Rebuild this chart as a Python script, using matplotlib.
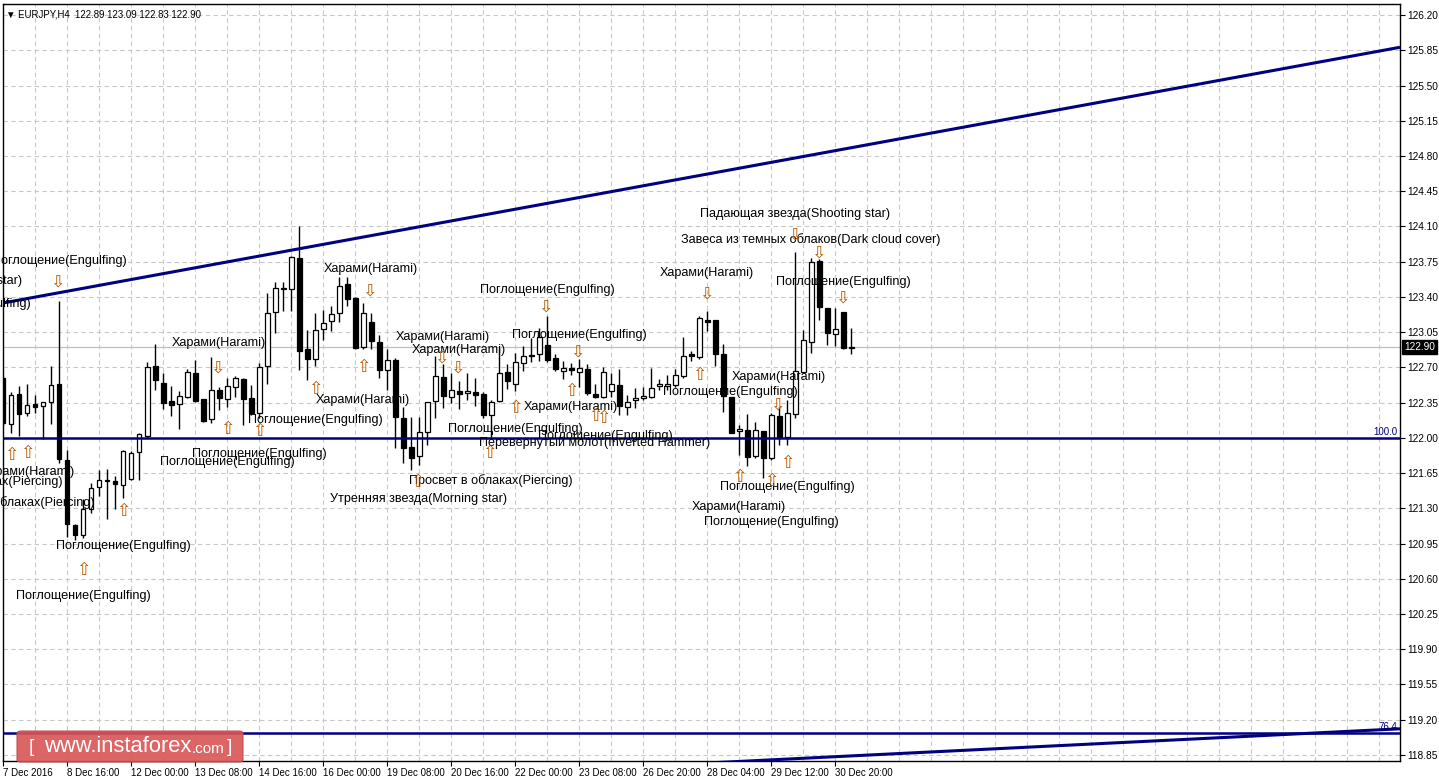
import matplotlib
matplotlib.use("Agg")
import matplotlib.pyplot as plt
from matplotlib.patches import FancyBboxPatch
import numpy as np

plt.rcParams['font.family'] = ['Liberation Sans', 'DejaVu Sans']

# EURJPY H4 candles (bar index 0 = first visible bar)
opens = [122.59, 122.14, 122.44, 122.25, 122.34, 122.32, 122.36, 122.54, 121.78, 121.13,
         121.04, 121.29, 121.51, 121.57, 121.57, 121.53, 121.59, 121.86, 122.02, 122.71,
         122.55, 122.37, 122.34, 122.41, 122.64, 122.39, 122.19, 122.48, 122.39, 122.51,
         122.58, 122.40, 122.25, 122.71, 123.25, 123.48, 123.48, 123.79, 122.88, 122.78,
         123.08, 123.16, 123.24, 123.53, 123.39, 122.90, 123.15, 122.95, 122.67, 122.77,
         122.20, 121.91, 121.82, 122.06, 122.37, 122.60, 122.41, 122.47, 122.45, 122.46,
         122.44, 122.23, 122.37, 122.65, 122.54, 122.74, 122.82, 122.83, 122.92, 122.79,
         122.66, 122.69, 122.65, 122.68, 122.44, 122.41, 122.47, 122.53, 122.31, 122.38,
         122.40, 122.41, 122.52, 122.52, 122.53, 122.61, 122.83, 122.80, 123.17, 123.17,
         122.83, 122.41, 122.07, 122.08, 121.82, 122.07, 121.80, 122.22, 122.01, 122.24,
         122.65, 122.95, 123.76, 123.29, 123.03, 123.25, 122.89]
highs = [122.61, 122.46, 122.52, 122.54, 122.43, 122.36, 122.71, 123.36, 121.88, 121.14,
         121.39, 121.55, 121.68, 121.69, 121.62, 121.88, 121.87, 122.05, 122.75, 122.93,
         122.64, 122.52, 122.47, 122.68, 122.77, 122.39, 122.80, 122.51, 122.59, 122.61,
         122.59, 122.53, 122.74, 123.44, 123.55, 123.55, 123.81, 124.10, 123.07, 123.24,
         123.27, 123.31, 123.60, 123.60, 123.40, 123.34, 123.24, 123.02, 122.88, 122.79,
         122.31, 122.21, 122.21, 122.36, 122.81, 122.73, 122.64, 122.56, 122.64, 122.59,
         122.46, 122.38, 122.89, 122.73, 122.84, 122.91, 122.99, 123.09, 123.21, 122.83,
         122.76, 122.74, 122.78, 122.73, 122.54, 122.70, 122.64, 122.68, 122.43, 122.50,
         122.51, 122.69, 122.58, 122.62, 122.68, 123.00, 122.86, 123.21, 123.26, 123.17,
         122.93, 122.41, 122.13, 122.24, 122.16, 122.07, 122.25, 122.31, 122.38, 123.85,
         123.07, 123.79, 123.78, 123.29, 123.29, 123.25, 123.09]
lows = [122.13, 122.05, 122.02, 122.22, 122.25, 121.99, 122.14, 121.75, 121.02, 120.99,
        121.01, 121.25, 121.42, 121.19, 121.29, 121.40, 121.58, 121.58, 122.00, 122.48,
        122.29, 122.22, 122.09, 122.40, 122.36, 122.16, 122.15, 122.28, 122.31, 122.41,
        122.13, 122.23, 122.20, 122.54, 123.04, 123.26, 123.26, 122.67, 122.57, 122.71,
        122.97, 123.06, 123.15, 123.31, 122.88, 122.88, 122.88, 122.59, 122.48, 121.90,
        121.75, 121.68, 121.73, 121.93, 122.20, 122.30, 122.35, 122.29, 122.38, 122.32,
        122.20, 122.00, 122.36, 122.49, 122.47, 122.66, 122.75, 122.76, 122.75, 122.66,
        122.58, 122.62, 122.51, 122.43, 122.40, 122.40, 122.41, 122.23, 122.23, 122.30,
        122.38, 122.40, 122.48, 122.48, 122.51, 122.59, 122.76, 122.78, 123.06, 122.71,
        122.26, 122.05, 121.83, 121.72, 121.80, 121.60, 121.78, 121.93, 121.93, 122.20,
        122.64, 122.84, 123.17, 122.92, 122.91, 122.88, 122.83]
closes = [122.15, 122.43, 122.24, 122.33, 122.31, 122.36, 122.53, 121.79, 121.14, 121.04,
          121.29, 121.50, 121.58, 121.58, 121.54, 121.87, 121.85, 122.04, 122.70, 122.57,
          122.35, 122.33, 122.42, 122.65, 122.37, 122.17, 122.48, 122.40, 122.52, 122.59,
          122.39, 122.25, 122.70, 123.24, 123.49, 123.48, 123.80, 122.86, 122.78, 123.07,
          123.14, 123.23, 123.51, 123.38, 122.89, 123.24, 122.96, 122.67, 122.77, 122.21,
          121.90, 121.80, 122.06, 122.36, 122.61, 122.42, 122.48, 122.44, 122.47, 122.43,
          122.23, 122.36, 122.64, 122.56, 122.75, 122.81, 122.81, 123.00, 122.77, 122.68,
          122.69, 122.67, 122.69, 122.45, 122.41, 122.65, 122.54, 122.32, 122.36, 122.40,
          122.42, 122.50, 122.54, 122.54, 122.62, 122.81, 122.81, 123.19, 123.15, 122.83,
          122.42, 122.05, 122.09, 121.81, 122.08, 121.80, 122.23, 122.01, 122.25, 122.66,
          122.97, 123.75, 123.30, 123.04, 123.08, 122.89, 122.90]

date_ticks = [0, 8, 16, 24, 32, 40, 48, 56, 64, 72, 80, 88, 96, 104]
date_labels = ["7 Dec 2016", "8 Dec 16:00", "12 Dec 00:00", "13 Dec 08:00", "14 Dec 16:00",
               "16 Dec 00:00", "19 Dec 08:00", "20 Dec 16:00", "22 Dec 00:00", "23 Dec 08:00",
               "26 Dec 20:00", "28 Dec 04:00", "29 Dec 12:00", "30 Dec 20:00"]

# trend lines (bar index, price) and levels
upper_trend_x = [0, 174.6]
upper_trend_y = [123.34, 125.88]
lower_trend_x = [60, 174.6]
lower_trend_y = [118.66, 119.11]
level_100 = 122.00
level_764 = 119.07
last_price = 122.90

# pattern labels: (bar index, price, text, align)
ENG = "Поглощение(Engulfing)"
HAR = "Харами(Harami)"
PIE = "Просвет в облаках(Piercing)"
pattern_labels = [
    (7.1, 123.76, ENG, 'center'),
    (2.4, 123.56, "Падающая звезда(Shooting star)", 'right'),
    (3.5, 123.33, ENG, 'right'),
    (9.0, 121.66, HAR, 'right'),
    (7.5, 121.57, PIE, 'right'),
    (11.5, 121.36, PIE, 'right'),
    (15.0, 120.93, ENG, 'center'),
    (10.0, 120.43, ENG, 'center'),
    (27.0, 122.94, HAR, 'center'),
    (32.0, 121.84, ENG, 'center'),
    (28.0, 121.76, ENG, 'center'),
    (39.0, 122.18, ENG, 'center'),
    (45.0, 122.38, HAR, 'center'),
    (46.0, 123.68, HAR, 'center'),
    (55.0, 123.00, HAR, 'center'),
    (57.0, 122.87, HAR, 'center'),
    (64.0, 122.09, ENG, 'center'),
    (74.0, 121.95, "Перевернутый молот(Inverted Hammer)", 'center'),
    (61.0, 121.58, PIE, 'center'),
    (52.0, 121.39, "Утренняя звезда(Morning star)", 'center'),
    (68.0, 123.47, ENG, 'center'),
    (72.0, 123.02, ENG, 'center'),
    (71.0, 122.31, HAR, 'center'),
    (75.25, 122.02, ENG, 'center'),
    (88.0, 123.64, HAR, 'center'),
    (90.9, 122.46, ENG, 'center'),
    (97.0, 122.60, HAR, 'center'),
    (98.0, 121.51, ENG, 'center'),
    (92.0, 121.31, HAR, 'center'),
    (96.0, 121.16, ENG, 'center'),
    (99.0, 124.22, "Падающая звезда(Shooting star)", 'center'),
    (101.0, 123.97, "Завеса из темных облаков(Dark cloud cover)", 'center'),
    (105.0, 123.55, ENG, 'center'),
]

# signal arrows
up_arrow_x = [1.0, 3.0, 10.0, 15.0, 28.0, 32.0, 39.0, 45.0, 60.75, 51.75, 64.0, 71.0,
              74.0, 75.0, 87.0, 98.0, 92.0, 96.0]
up_arrow_y = [121.83, 121.85, 120.69, 121.27, 122.09, 122.07, 122.49, 122.70, 121.85,
              121.56, 122.30, 122.47, 122.22, 122.20, 122.62, 121.75, 121.61, 121.57]
down_arrow_x = [6.75, 26.75, 45.75, 54.75, 56.75, 67.75, 71.75, 87.9, 96.75, 98.9,
                101.9, 104.9]
down_arrow_y = [123.55, 122.70, 123.46, 122.80, 122.70, 123.30, 122.86, 123.43, 122.33,
                124.02, 123.84, 123.39]

W, H = 1439, 781
fig = plt.figure(figsize=(W / 100, H / 100), dpi=100)
fig.patch.set_facecolor('white')
ax = fig.add_axes([3 / W, 1 - 761 / H, (1400 - 3) / W, (761 - 4) / H])
ax.set_xlim(0, 174.6)
ax.set_ylim(118.79, 126.31)

navy = '#000080'

# grid
yticks = np.round(np.arange(118.85, 126.21, 0.35), 2)
for v in yticks:
    ax.axhline(v, color='#C8C8C8', lw=0.8, ls=(0, (4, 3)), zorder=0)
for v in np.arange(4, 175, 4):
    ax.axvline(v, color='#C8C8C8', lw=0.8, ls=(0, (4, 3)), zorder=0)

# current price line
ax.axhline(last_price, color='#C0C0C0', lw=0.9, zorder=1)

# candles
x = np.arange(len(opens))
o = np.array(opens); c = np.array(closes)
ax.vlines(x, lows, highs, color='black', lw=1.0, zorder=3)
bull = c >= o
bottoms = np.minimum(o, c)
heights = np.maximum(np.abs(c - o), 0.004)
ax.bar(x[bull], heights[bull], bottom=bottoms[bull], width=0.62,
       color='white', edgecolor='black', lw=0.9, zorder=4)
ax.bar(x[~bull], heights[~bull], bottom=bottoms[~bull], width=0.62,
       color='black', edgecolor='black', lw=0.9, zorder=4)

# trend lines and fibo levels
ax.plot(upper_trend_x, upper_trend_y, color=navy, lw=2.2, zorder=5, solid_capstyle='butt')
ax.plot(lower_trend_x, lower_trend_y, color=navy, lw=2.2, zorder=5, solid_capstyle='butt')
ax.axhline(level_100, color=navy, lw=1.8, zorder=5)
ax.axhline(level_764, color=navy, lw=1.8, zorder=5)
ax.text(174.3, level_100 + 0.012, "100.0", color=navy, fontsize=7, ha='right', va='bottom', zorder=6)
ax.text(174.3, level_764 + 0.012, "76.4", color=navy, fontsize=7, ha='right', va='bottom', zorder=6)

# pattern labels
for bx, py, txt, al in pattern_labels:
    ax.text(bx, py, txt, fontsize=9.1, ha=al, va='center', color='black', zorder=7)
for bx, py in zip(up_arrow_x, up_arrow_y):
    ax.text(bx, py, '\u21e7', fontsize=12.5, ha='center', va='center', color='#B85A00',
            family='DejaVu Sans', zorder=7)
for bx, py in zip(down_arrow_x, down_arrow_y):
    ax.text(bx, py, '\u21e9', fontsize=12.5, ha='center', va='center', color='#B85A00',
            family='DejaVu Sans', zorder=7)

# axes styling
for s in ax.spines.values():
    s.set_color('black'); s.set_linewidth(1.0)
ax.yaxis.tick_right()
ax.set_yticks(yticks)
ax.set_yticklabels([f"{v:.2f}" for v in yticks])
ax.set_xticks(date_ticks)
ax.set_xticklabels(date_labels, ha='left')
ax.tick_params(axis='both', direction='out', length=3.5, width=0.8, colors='black')
ax.tick_params(axis='x', labelsize=7.0, pad=1.5)
ax.tick_params(axis='y', labelsize=7.3, pad=2, left=False)

# last price marker on the scale
ax.text(1.003, (last_price - 118.79) / (126.31 - 118.79), f"{last_price:.2f}",
        transform=ax.transAxes, fontsize=7.3, color='white', ha='left', va='center',
        bbox=dict(boxstyle='square,pad=0.2', fc='black', ec='black'), zorder=10)

# header
ax.text(0.002, 0.993, "\u25bc EURJPY,H4  122.89 123.09 122.83 122.90", transform=ax.transAxes,
        fontsize=6.9, ha='left', va='top', color='black', zorder=8)

# watermark badge
def fx(px):
    return px / W
def fy(py):
    return 1 - py / H
badge = FancyBboxPatch((fx(17), fy(762)), fx(243) - fx(17), fy(731) - fy(762),
                       boxstyle='round,pad=0,rounding_size=0.003', transform=fig.transFigure,
                       fc='#D95555', ec='#C04545', lw=0.8, alpha=0.9, zorder=20)
fig.patches.append(badge)
fig.text(fx(29), fy(748), "[", color='white', fontsize=14, ha='left', va='center', zorder=21)
fig.text(fx(44), fy(747), "www.instaforex", color='white', fontsize=15.8, ha='left', va='center', zorder=21)
fig.text(fx(192), fy(749), ".com", color='white', fontsize=11, ha='left', va='center', zorder=21)
fig.text(fx(227), fy(748), "]", color='white', fontsize=14, ha='left', va='center', zorder=21)

fig.savefig("out.png", dpi=100)
